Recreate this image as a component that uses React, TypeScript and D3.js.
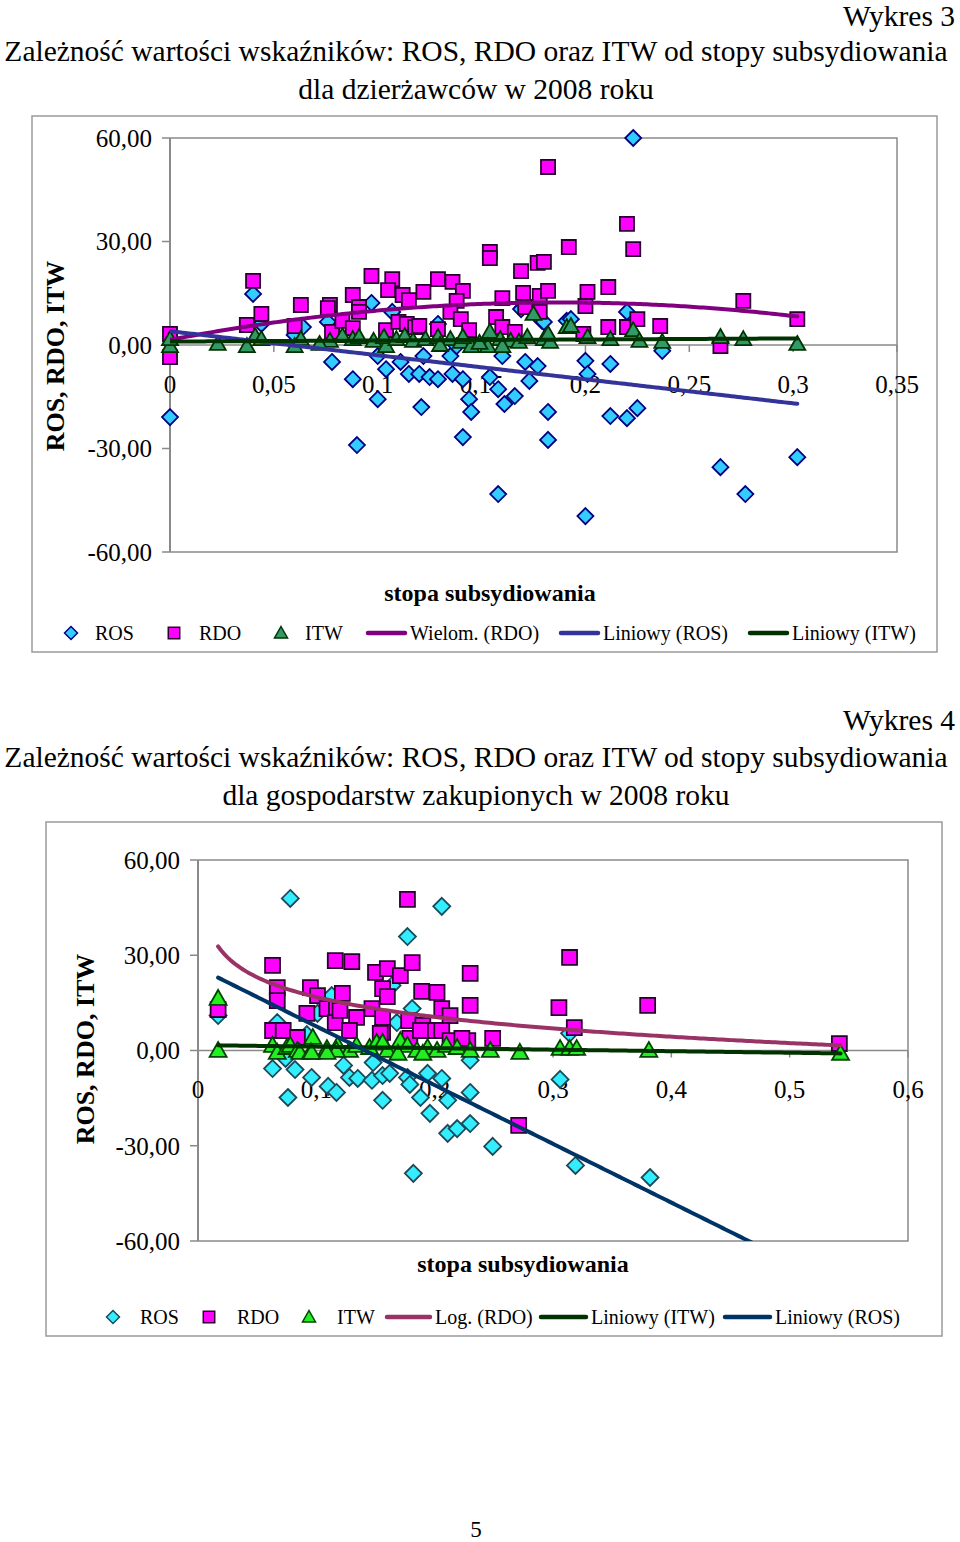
import React from "react";
import * as d3 from "d3";

type Pt = [number, number];

// ---------- Wykres 3 (dzierżawcy) ----------
const ros3: Pt[] = [
  [0.0, -20.9], [0.04, 14.8], [0.064, 5.2], [0.06, 2.9], [0.076, 6.7], [0.078, -4.9], [0.088, -9.9],
  [0.09, -29.0], [0.097, 12.2], [0.1, -15.7], [0.1, -3.2], [0.104, -7.0], [0.107, 9.6], [0.111, -4.9],
  [0.115, -8.4], [0.12, -8.4], [0.121, -18.0], [0.122, -3.2], [0.125, -9.3], [0.129, -9.9], [0.129, 6.1],
  [0.135, -3.2], [0.136, -8.4], [0.138, -0.3], [0.141, -26.7], [0.141, -9.9], [0.144, -15.7], [0.145, -19.4],
  [0.154, -9.3], [0.158, -12.8], [0.158, -43.2], [0.16, -3.2], [0.161, -17.1], [0.166, -14.8], [0.17, 11.0],
  [0.171, -4.9], [0.173, -10.4], [0.177, -6.1], [0.179, 7.0], [0.182, -19.4], [0.182, -27.5], [0.191, 7.0],
  [0.193, 7.5], [0.2, -4.6], [0.201, -8.4], [0.2, -49.6], [0.212, -5.5], [0.212, -20.6], [0.22, -21.2],
  [0.225, -18.3], [0.22, 9.6], [0.223, 60.0], [0.237, -1.7], [0.265, -35.4], [0.277, -43.2], [0.302, -32.5],
  [0.169, 10.4], [0.18, 6.7], [0.265, 0.9], [0.044, 6.1],
];
const rdo3: Pt[] = [
  [0.0, 3.2], [0.0, -3.5], [0.04, 18.6], [0.044, 9.0], [0.037, 5.8], [0.063, 11.6], [0.06, 5.5], [0.077, 11.6],
  [0.076, 10.7], [0.078, 3.8], [0.088, 14.5], [0.091, 11.0], [0.091, 9.6], [0.083, 7.0], [0.088, 4.9],
  [0.097, 20.0], [0.107, 19.1], [0.105, 15.9], [0.112, 14.5], [0.115, 13.0], [0.104, 4.3], [0.11, 6.7],
  [0.114, 6.1], [0.118, 5.2], [0.122, 15.4], [0.129, 19.1], [0.136, 18.3], [0.141, 15.7], [0.138, 12.8],
  [0.135, 9.6], [0.14, 7.5], [0.129, 4.6], [0.144, 4.3], [0.12, 5.5], [0.154, 27.0], [0.154, 25.2],
  [0.157, 8.1], [0.16, 13.6], [0.16, 5.2], [0.166, 3.8], [0.169, 21.4], [0.17, 15.1], [0.171, 11.0],
  [0.177, 23.8], [0.18, 24.1], [0.178, 14.2], [0.178, 9.6], [0.182, 15.7], [0.182, 51.6], [0.192, 28.4],
  [0.199, 3.2], [0.2, 11.3], [0.201, 15.4], [0.211, 16.8], [0.211, 5.2], [0.22, 35.1], [0.223, 27.8],
  [0.22, 5.2], [0.225, 7.5], [0.236, 5.5], [0.276, 12.8], [0.265, -0.3], [0.302, 7.5],
];
const itw3: Pt[] = [
  [0.0, -0.3], [0.0, 1.7], [0.023, 0.3], [0.037, -0.3], [0.041, 2.6], [0.044, 1.7], [0.06, -0.3], [0.063, 1.7],
  [0.077, 1.2], [0.083, 2.6], [0.088, 1.7], [0.091, 2.3], [0.098, 1.2], [0.104, -0.3], [0.103, 2.3],
  [0.109, 1.7], [0.113, 2.6], [0.117, 1.2], [0.123, 1.7], [0.129, 2.3], [0.135, 1.7], [0.14, 0.9],
  [0.145, -0.3], [0.141, 2.3], [0.154, 3.8], [0.159, 1.7], [0.164, 1.2], [0.168, 0.9], [0.172, 2.3],
  [0.175, 9.0], [0.18, 1.7], [0.183, 0.9], [0.191, 5.2], [0.153, -0.3], [0.16, -0.3], [0.193, 5.5],
  [0.201, 2.3], [0.212, 1.7], [0.223, 4.3], [0.226, 1.2], [0.237, 0.9], [0.265, 2.3], [0.276, 1.7],
  [0.302, 0.3], [0.182, 3.2], [0.072, 0.3], [0.13, 0.0], [0.149, 0.6],
];
// trend lines: [a, b, c] / [a, b]
const rdoPoly3 = [1.5, 115.7, -309];
const rosLin3 = [4.0, -69.7];
const itwLin3 = [1.0, 3.0];
const trendRange3 = [0, 0.302];
const xTicks3 = [0, 0.05, 0.1, 0.15, 0.2, 0.25, 0.3, 0.35];
const legend3 = ["ROS", "RDO", "ITW", "Wielom. (RDO)", "Liniowy (ROS)", "Liniowy (ITW)"];

// ---------- Wykres 4 (gospodarstwa zakupione) ----------
const ros4: Pt[] = [
  [0.017, 11.0], [0.078, 47.9], [0.063, -5.7], [0.082, -6.0], [0.096, -8.5], [0.076, -14.8], [0.11, -11.3],
  [0.067, 8.8], [0.092, 5.0], [0.101, 11.7], [0.074, -2.5], [0.117, -13.2], [0.123, -4.7], [0.128, -8.5],
  [0.135, -8.8], [0.147, -9.4], [0.156, -7.9], [0.156, -15.7], [0.148, -3.8], [0.162, -7.2], [0.177, 35.9],
  [0.206, 45.4], [0.177, -8.5], [0.179, -10.7], [0.188, -14.8], [0.196, -19.8], [0.194, -7.2], [0.206, -8.8],
  [0.211, -26.1], [0.219, -24.6], [0.23, -23.0], [0.23, -13.2], [0.182, -38.7], [0.211, -15.7], [0.168, 8.8],
  [0.181, 13.2], [0.164, 20.5], [0.23, -3.1], [0.249, -30.2], [0.306, -9.1], [0.319, -36.2], [0.382, -40.0],
  [0.314, 5.4], [0.113, 17.3],
];
const rdo4: Pt[] = [
  [0.017, 12.9], [0.063, 26.8], [0.067, 19.8], [0.067, 15.7], [0.063, 6.3], [0.072, 6.3], [0.084, 4.1],
  [0.095, 19.8], [0.101, 17.3], [0.092, 11.7], [0.109, 13.2], [0.117, 13.2], [0.116, 8.8], [0.122, 18.0],
  [0.116, 28.3], [0.13, 28.0], [0.15, 24.6], [0.16, 25.8], [0.171, 23.6], [0.181, 27.7], [0.177, 47.6],
  [0.23, 24.3], [0.156, 19.5], [0.16, 17.0], [0.189, 18.6], [0.202, 18.3], [0.12, 12.6], [0.134, 10.4],
  [0.147, 13.2], [0.156, 10.4], [0.156, 5.7], [0.128, 6.3], [0.154, 5.4], [0.178, 9.4], [0.19, 7.9],
  [0.206, 13.2], [0.213, 11.0], [0.23, 14.2], [0.198, 6.3], [0.206, 6.3], [0.213, 3.1], [0.228, 3.1],
  [0.249, 3.8], [0.223, 3.8], [0.314, 29.3], [0.305, 13.5], [0.318, 7.2], [0.38, 14.2], [0.271, -23.6],
  [0.542, 2.2], [0.179, 3.8], [0.188, 6.3],
];
const itw4: Pt[] = [
  [0.017, 16.4], [0.017, 0.0], [0.063, 1.6], [0.067, -0.6], [0.075, 0.9], [0.078, 1.6], [0.084, 0.0],
  [0.086, -0.6], [0.097, 4.1], [0.095, -0.6], [0.109, 0.6], [0.118, 1.6], [0.128, 0.0], [0.134, 1.6],
  [0.145, 0.9], [0.151, 2.5], [0.16, 0.0], [0.156, 2.5], [0.171, 3.1], [0.177, 1.6], [0.185, 0.0],
  [0.194, 0.9], [0.202, 0.0], [0.21, 1.6], [0.219, 0.9], [0.23, 0.0], [0.247, 0.0], [0.169, -0.9],
  [0.19, -0.9], [0.272, -0.6], [0.306, 0.6], [0.314, 0.6], [0.32, 0.6], [0.381, 0.0], [0.543, -0.9],
  [0.117, 0.0], [0.109, -0.6], [0.096, -0.6],
];
const rdoLog4 = [-3.9, -9.0];
const itwLin4 = [1.7, -4.8];
const rosLin4 = [26.1, -185];
const trendRange4 = [0.017, 0.543];
const xTicks4 = [0, 0.1, 0.2, 0.3, 0.4, 0.5, 0.6];
const legend4 = ["ROS", "RDO", "ITW", "Log. (RDO)", "Liniowy (ITW)", "Liniowy (ROS)"];

const yTicks = [-60, -30, 0, 30, 60];

const FONT = "'Liberation Serif', 'Times New Roman', serif";

type Kind = "diamond" | "square" | "triangle";

function markerPath(kind: Kind, s: number): string {
  if (kind === "diamond") return `M0,${-s}L${s},0L0,${s}L${-s},0Z`;
  if (kind === "square") return `M${-s * 0.88},${-s * 0.88}H${s * 0.88}V${s * 0.88}H${-s * 0.88}Z`;
  return `M0,${-s}L${s},${s * 0.75}L${-s},${s * 0.75}Z`;
}

interface SeriesDef { data: Pt[]; kind: Kind; fill: string; stroke: string; }
interface TrendDef { f: (x: number) => number; range: number[]; color: string; }
interface LegendDef { label: string; x: number; textX: number; marker?: SeriesDef; line?: string; lineEnd?: number; }

interface ChartProps {
  box: { x: number; y: number; w: number; h: number };
  plot: { l: number; r: number; t: number; b: number };
  xDomain: [number, number];
  xTicks: number[];
  series: SeriesDef[];
  trends: TrendDef[];
  legend: LegendDef[];
  legendY: number;
  xTitleY: number;
  xTitleX: number;
  yTitleX: number;
  yTitleY: number;
  clipId: string;
  ms: number;
}

const fmtY = (v: number) => d3.format(".2f")(v).replace(".", ",").replace("−", "-");
const fmtX = (v: number) => String(v).replace(".", ",");

function Chart(p: ChartProps) {
  const x = d3.scaleLinear().domain(p.xDomain).range([p.plot.l, p.plot.r]);
  const y = d3.scaleLinear().domain([-60, 60]).range([p.plot.b, p.plot.t]);
  const grey = "#8a8a8a";
  return (
    <g>
      <rect x={p.box.x} y={p.box.y} width={p.box.w} height={p.box.h} fill="#fff" stroke="#9a9a9a" strokeWidth={1.5} />
      <defs>
        <clipPath id={p.clipId}>
          <rect x={p.plot.l} y={p.plot.t} width={p.plot.r - p.plot.l} height={p.plot.b - p.plot.t} />
        </clipPath>
      </defs>
      <path d={`M${p.plot.l},${p.plot.t}H${p.plot.r}V${p.plot.b}H${p.plot.l}`} fill="none" stroke={grey} strokeWidth={1.5} />
      <line x1={p.plot.l} x2={p.plot.l} y1={p.plot.t} y2={p.plot.b} stroke={grey} strokeWidth={2} />
      {yTicks.map((t) => (
        <g key={t}>
          <line x1={p.plot.l - 8} x2={p.plot.l} y1={y(t)} y2={y(t)} stroke={grey} strokeWidth={1.5} />
          <text x={p.plot.l - 18} y={y(t)} dy="0.35em" textAnchor="end" fontSize={25} fontFamily={FONT}>{fmtY(t)}</text>
        </g>
      ))}
      <line x1={p.plot.l} x2={p.plot.r} y1={y(0)} y2={y(0)} stroke={grey} strokeWidth={1.5} />
      {p.xTicks.map((t) => (
        <g key={t}>
          <line x1={x(t)} x2={x(t)} y1={y(0)} y2={y(0) + 7} stroke={grey} strokeWidth={1.5} />
          <text x={x(t)} y={y(0) + 39} dy="0.35em" textAnchor="middle" fontSize={25} fontFamily={FONT}>{fmtX(t)}</text>
        </g>
      ))}
      {p.series.map((s, i) => (
        <g key={i}>
          {s.data.map((d, j) => (
            <path key={j} d={markerPath(s.kind, p.ms)} transform={`translate(${x(d[0])},${y(d[1])})`} fill={s.fill} stroke={s.stroke} strokeWidth={1.8} strokeLinejoin="miter" />
          ))}
        </g>
      ))}
      <g clipPath={`url(#${p.clipId})`}>
        {p.trends.map((t, i) => {
          const xs = d3.range(0, 201).map((k) => t.range[0] + ((t.range[1] - t.range[0]) * k) / 200);
          const path = d3.line<number>().x((v) => x(v)).y((v) => y(t.f(v)))(xs) || "";
          return <path key={i} d={path} fill="none" stroke={t.color} strokeWidth={4} strokeLinecap="round" />;
        })}
      </g>
      <text x={p.xTitleX} y={p.xTitleY} dy="0.35em" textAnchor="middle" fontSize={24} fontWeight="bold" fontFamily={FONT}>stopa subsydiowania</text>
      <text transform={`translate(${p.yTitleX},${p.yTitleY}) rotate(-90)`} dy="0.35em" textAnchor="middle" fontSize={26} fontWeight="bold" fontFamily={FONT}>ROS, RDO, ITW</text>
      {p.legend.map((l, i) => (
        <g key={i}>
          {l.marker && (
            <path d={markerPath(l.marker.kind, 6.5)} transform={`translate(${l.x},${p.legendY})`} fill={l.marker.fill} stroke={l.marker.stroke} strokeWidth={1.5} />
          )}
          {l.line && (
            <line x1={l.x} x2={l.lineEnd} y1={p.legendY} y2={p.legendY} stroke={l.line} strokeWidth={4.5} strokeLinecap="round" />
          )}
          <text x={l.textX} y={p.legendY} dy="0.35em" fontSize={20} fontFamily={FONT}>{l.label}</text>
        </g>
      ))}
    </g>
  );
}

const poly = (c: number[]) => (v: number) => c.reduce((s, a, i) => s + a * Math.pow(v, i), 0);
const logf = (c: number[]) => (v: number) => c[0] + c[1] * Math.log(v);

export default function App() {
  const s3: SeriesDef[] = [
    { data: ros3, kind: "diamond", fill: "#33CCFF", stroke: "#000080" },
    { data: rdo3, kind: "square", fill: "#FF00FF", stroke: "#2a0030" },
    { data: itw3, kind: "triangle", fill: "#339966", stroke: "#003300" },
  ];
  const s4: SeriesDef[] = [
    { data: ros4, kind: "diamond", fill: "#33EEFF", stroke: "#1a4a5a" },
    { data: rdo4, kind: "square", fill: "#FF00FF", stroke: "#2a0030" },
    { data: itw4, kind: "triangle", fill: "#22EE22", stroke: "#004400" },
  ];
  const c3 = { rdo: "#800080", ros: "#333399", itw: "#003300" };
  const c4 = { rdo: "#993366", itw: "#003300", ros: "#003366" };
  return (
    <svg width={960} height={1542} style={{ position: "absolute", left: 0, top: 0, display: "block" }} fontFamily={FONT}>
      <rect width={960} height={1542} fill="#fff" />
      <text x={955} y={16} dy="0.35em" textAnchor="end" fontSize={29.5}>Wykres 3</text>
      <text x={476} y={51} dy="0.35em" textAnchor="middle" fontSize={29.5}>Zależność wartości wskaźników: ROS, RDO oraz ITW od stopy subsydiowania</text>
      <text x={476} y={89} dy="0.35em" textAnchor="middle" fontSize={29.5}>dla dzierżawców w 2008 roku</text>
      <Chart
        box={{ x: 32, y: 116, w: 905, h: 536 }}
        plot={{ l: 170, r: 897, t: 138, b: 552 }}
        xDomain={[0, 0.35]}
        xTicks={xTicks3}
        series={s3}
        trends={[
          { f: poly(rdoPoly3), range: trendRange3, color: c3.rdo },
          { f: poly(rosLin3), range: trendRange3, color: c3.ros },
          { f: poly(itwLin3), range: trendRange3, color: c3.itw },
        ]}
        legend={[
          { label: legend3[0], x: 71, textX: 95, marker: s3[0] },
          { label: legend3[1], x: 174, textX: 199, marker: s3[1] },
          { label: legend3[2], x: 281, textX: 305, marker: s3[2] },
          { label: legend3[3], x: 368, lineEnd: 405, textX: 410, line: c3.rdo },
          { label: legend3[4], x: 561, lineEnd: 598, textX: 603, line: c3.ros },
          { label: legend3[5], x: 750, lineEnd: 787, textX: 792, line: c3.itw },
        ]}
        legendY={633}
        xTitleY={593}
        xTitleX={490}
        yTitleX={55}
        yTitleY={356}
        clipId="clip3"
        ms={8}
      />
      <text x={955} y={720} dy="0.35em" textAnchor="end" fontSize={29.5}>Wykres 4</text>
      <text x={476} y={757} dy="0.35em" textAnchor="middle" fontSize={29.5}>Zależność wartości wskaźników: ROS, RDO oraz ITW od stopy subsydiowania</text>
      <text x={476} y={795} dy="0.35em" textAnchor="middle" fontSize={29.5}>dla gospodarstw zakupionych w 2008 roku</text>
      <Chart
        box={{ x: 46, y: 822, w: 896, h: 514 }}
        plot={{ l: 198, r: 908, t: 860, b: 1241 }}
        xDomain={[0, 0.6]}
        xTicks={xTicks4}
        series={s4}
        trends={[
          { f: logf(rdoLog4), range: trendRange4, color: c4.rdo },
          { f: poly(itwLin4), range: trendRange4, color: c4.itw },
          { f: poly(rosLin4), range: trendRange4, color: c4.ros },
        ]}
        legend={[
          { label: legend4[0], x: 113, textX: 140, marker: s4[0] },
          { label: legend4[1], x: 209, textX: 237, marker: s4[1] },
          { label: legend4[2], x: 309, textX: 337, marker: s4[2] },
          { label: legend4[3], x: 387, lineEnd: 430, textX: 435, line: c4.rdo },
          { label: legend4[4], x: 541, lineEnd: 586, textX: 591, line: c4.itw },
          { label: legend4[5], x: 725, lineEnd: 770, textX: 775, line: c4.ros },
        ]}
        legendY={1317}
        xTitleY={1264}
        xTitleX={523}
        yTitleX={85}
        yTitleY={1049}
        clipId="clip4"
        ms={8.5}
      />
      <text x={476} y={1529} dy="0.35em" textAnchor="middle" fontSize={23}>5</text>
    </svg>
  );
}
